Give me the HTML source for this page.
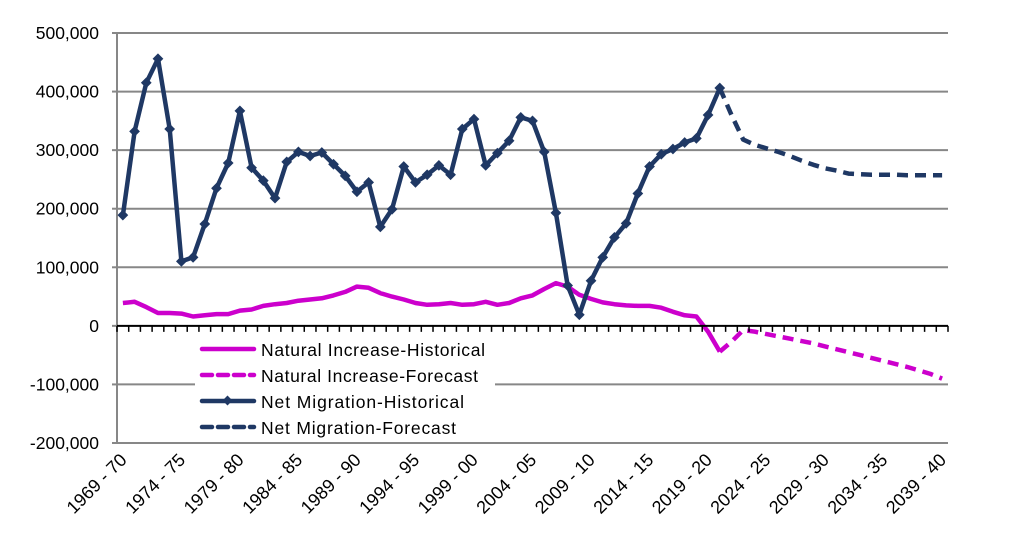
<!DOCTYPE html>
<html><head><meta charset="utf-8"><style>
html,body{margin:0;padding:0;background:#fff;}
svg{display:block;font-family:"Liberation Sans",sans-serif;}
</style></head><body>
<svg id="chart" width="1009" height="553" viewBox="0 0 1009 553" xmlns="http://www.w3.org/2000/svg">
<g id="grid"></g>
<g id="yaxis"></g>
<g id="series"></g>
<g id="xaxis"></g>
<g id="legend">
<rect x="195" y="338" width="300" height="104" fill="#fff"/>
<g><line x1="202" y1="349" x2="254" y2="349" stroke="#CC00CC" stroke-width="4.5" stroke-linecap="round"/><text x="261" y="356" font-size="17.5" fill="#000" textLength="224" lengthAdjust="spacing">Natural Increase-Historical</text></g>
<g><line x1="202" y1="375" x2="254" y2="375" stroke="#CC00CC" stroke-width="4.5" stroke-dasharray="10,6" stroke-linecap="round"/><text x="261" y="382" font-size="17.5" fill="#000" textLength="217" lengthAdjust="spacing">Natural Increase-Forecast</text></g>
<g><line x1="202" y1="401" x2="254" y2="401" stroke="#1F3864" stroke-width="4.5" stroke-linecap="round"/><rect x="224" y="397" width="7" height="7" fill="#1F3864" transform="rotate(45 227.5 400.5)"/><text x="261" y="408" font-size="17.5" fill="#000" textLength="203" lengthAdjust="spacing">Net Migration-Historical</text></g>
<g><line x1="202" y1="427" x2="254" y2="427" stroke="#1F3864" stroke-width="4.5" stroke-dasharray="10,6" stroke-linecap="round"/><text x="261" y="434" font-size="17.5" fill="#000" textLength="195" lengthAdjust="spacing">Net Migration-Forecast</text></g>
</g>
</svg>
<script>
const categories = [];
for (let y = 1969; y <= 2039; y++) categories.push(y + ' - ' + String((y + 1) % 100).padStart(2, '0'));
const yTicks = [500000,400000,300000,200000,100000,0,-100000,-200000];
const yTickLabels = ['500,000','400,000','300,000','200,000','100,000','0','-100,000','-200,000'];
const migrationHist = [189000,332000,415000,456000,336000,110000,117000,174000,235000,278000,367000,270000,248000,218000,280000,297000,290000,296000,276000,256000,229000,245000,169000,199000,272000,245000,258000,274000,258000,336000,353000,274000,295000,316000,356000,350000,297000,193000,69000,19000,77000,117000,151000,175000,226000,272000,293000,302000,313000,320000,360000,406000];
const migrationForecastStart = 51;
const migrationForecast = [406000,360000,318000,309000,303000,297000,290000,282000,275000,269000,265000,260000,259000,258000,258000,258000,257000,257000,257000,257000];
const naturalHist = [39000,41000,32000,22000,22000,21000,16000,18000,20000,20000,26000,28000,34000,37000,39000,43000,45000,47000,52000,58000,67000,65000,56000,50000,45000,39000,36000,37000,39000,36000,37000,41000,36000,39000,47000,52000,63000,73000,67000,53000,46000,40000,37000,35000,34000,34000,31000,24000,18000,16000,-10000,-44000];
const naturalForecastStart = 51;
const naturalForecast = [-44000,-27000,-7000,-10000,-14000,-18000,-22000,-26000,-30000,-35000,-40000,-45000,-50000,-55000,-60000,-65000,-70000,-76000,-82000,-90000];

const NS='http://www.w3.org/2000/svg';
const L=117,R=948,T=33,B=443,YMAX=500000,YMIN=-200000;
const step=(R-L)/categories.length;
const xOf=i=>L+step*(i+0.5);
const yOf=v=>T+(YMAX-v)/(YMAX-YMIN)*(B-T);
function mk(tag,attrs,parent){const e=document.createElementNS(NS,tag);for(const k in attrs)e.setAttribute(k,attrs[k]);parent.appendChild(e);return e;}
const grid=document.getElementById('grid'),yaxis=document.getElementById('yaxis'),series=document.getElementById('series'),xaxis=document.getElementById('xaxis');
yTicks.forEach((v,k)=>{
  if(v!==0){const g=mk('line',{x1:L,x2:R,y1:yOf(v),y2:yOf(v),stroke:'#878787','stroke-width':2},grid);
  
  }
  mk('line',{x1:L-5,x2:L,y1:yOf(v),y2:yOf(v),stroke:'#878787','stroke-width':2},yaxis);
  const t=mk('text',{x:99,y:yOf(v)+6,'text-anchor':'end','font-size':17.5,fill:'#000'},yaxis);
  t.textContent=yTickLabels[k];
  
  
});
mk('line',{x1:L,x2:L,y1:T,y2:B,stroke:'#878787','stroke-width':2},yaxis);
function path(vals,start,attrs){
  const d=vals.map((v,i)=>(i?'L':'M')+xOf(start+i).toFixed(1)+' '+yOf(v).toFixed(1)).join(' ');
  return mk('path',Object.assign({d:d,fill:'none','stroke-linejoin':'round'},attrs),series);
}
const p1=path(naturalHist,0,{stroke:'#CC00CC','stroke-width':4.5});


const p2=path(naturalForecast,naturalForecastStart,{stroke:'#CC00CC','stroke-width':4.5,'stroke-dasharray':'11,7'});


const p3=path(migrationForecast,migrationForecastStart,{stroke:'#1F3864','stroke-width':4.5,'stroke-dasharray':'11,7'});


const p4=path(migrationHist,0,{stroke:'#1F3864','stroke-width':4.5});


migrationHist.forEach((v,i)=>{
  const x=xOf(i),y=yOf(v);
  const m=mk('rect',{x:x-3.8,y:y-3.8,width:7.6,height:7.6,fill:'#1F3864',transform:'rotate(45 '+x+' '+y+')'},series);
  
  
});
mk('line',{x1:L,x2:R,y1:yOf(0),y2:yOf(0),stroke:'#000','stroke-width':2},xaxis);
for(let i=0;i<=categories.length;i++){const x=L+step*i;mk('line',{x1:x,x2:x,y1:yOf(0),y2:yOf(0)+6,stroke:'#000','stroke-width':1.5},xaxis);}
categories.forEach((c,i)=>{
  if(i%5!==0)return;
  const x=xOf(i)+5,y=461;
  const t=mk('text',{x:x,y:y,'text-anchor':'end','font-size':18,fill:'#000',transform:'rotate(-45 '+x+' '+y+')'},xaxis);
  t.textContent=c;
  
  
});
</script>
</body></html>
